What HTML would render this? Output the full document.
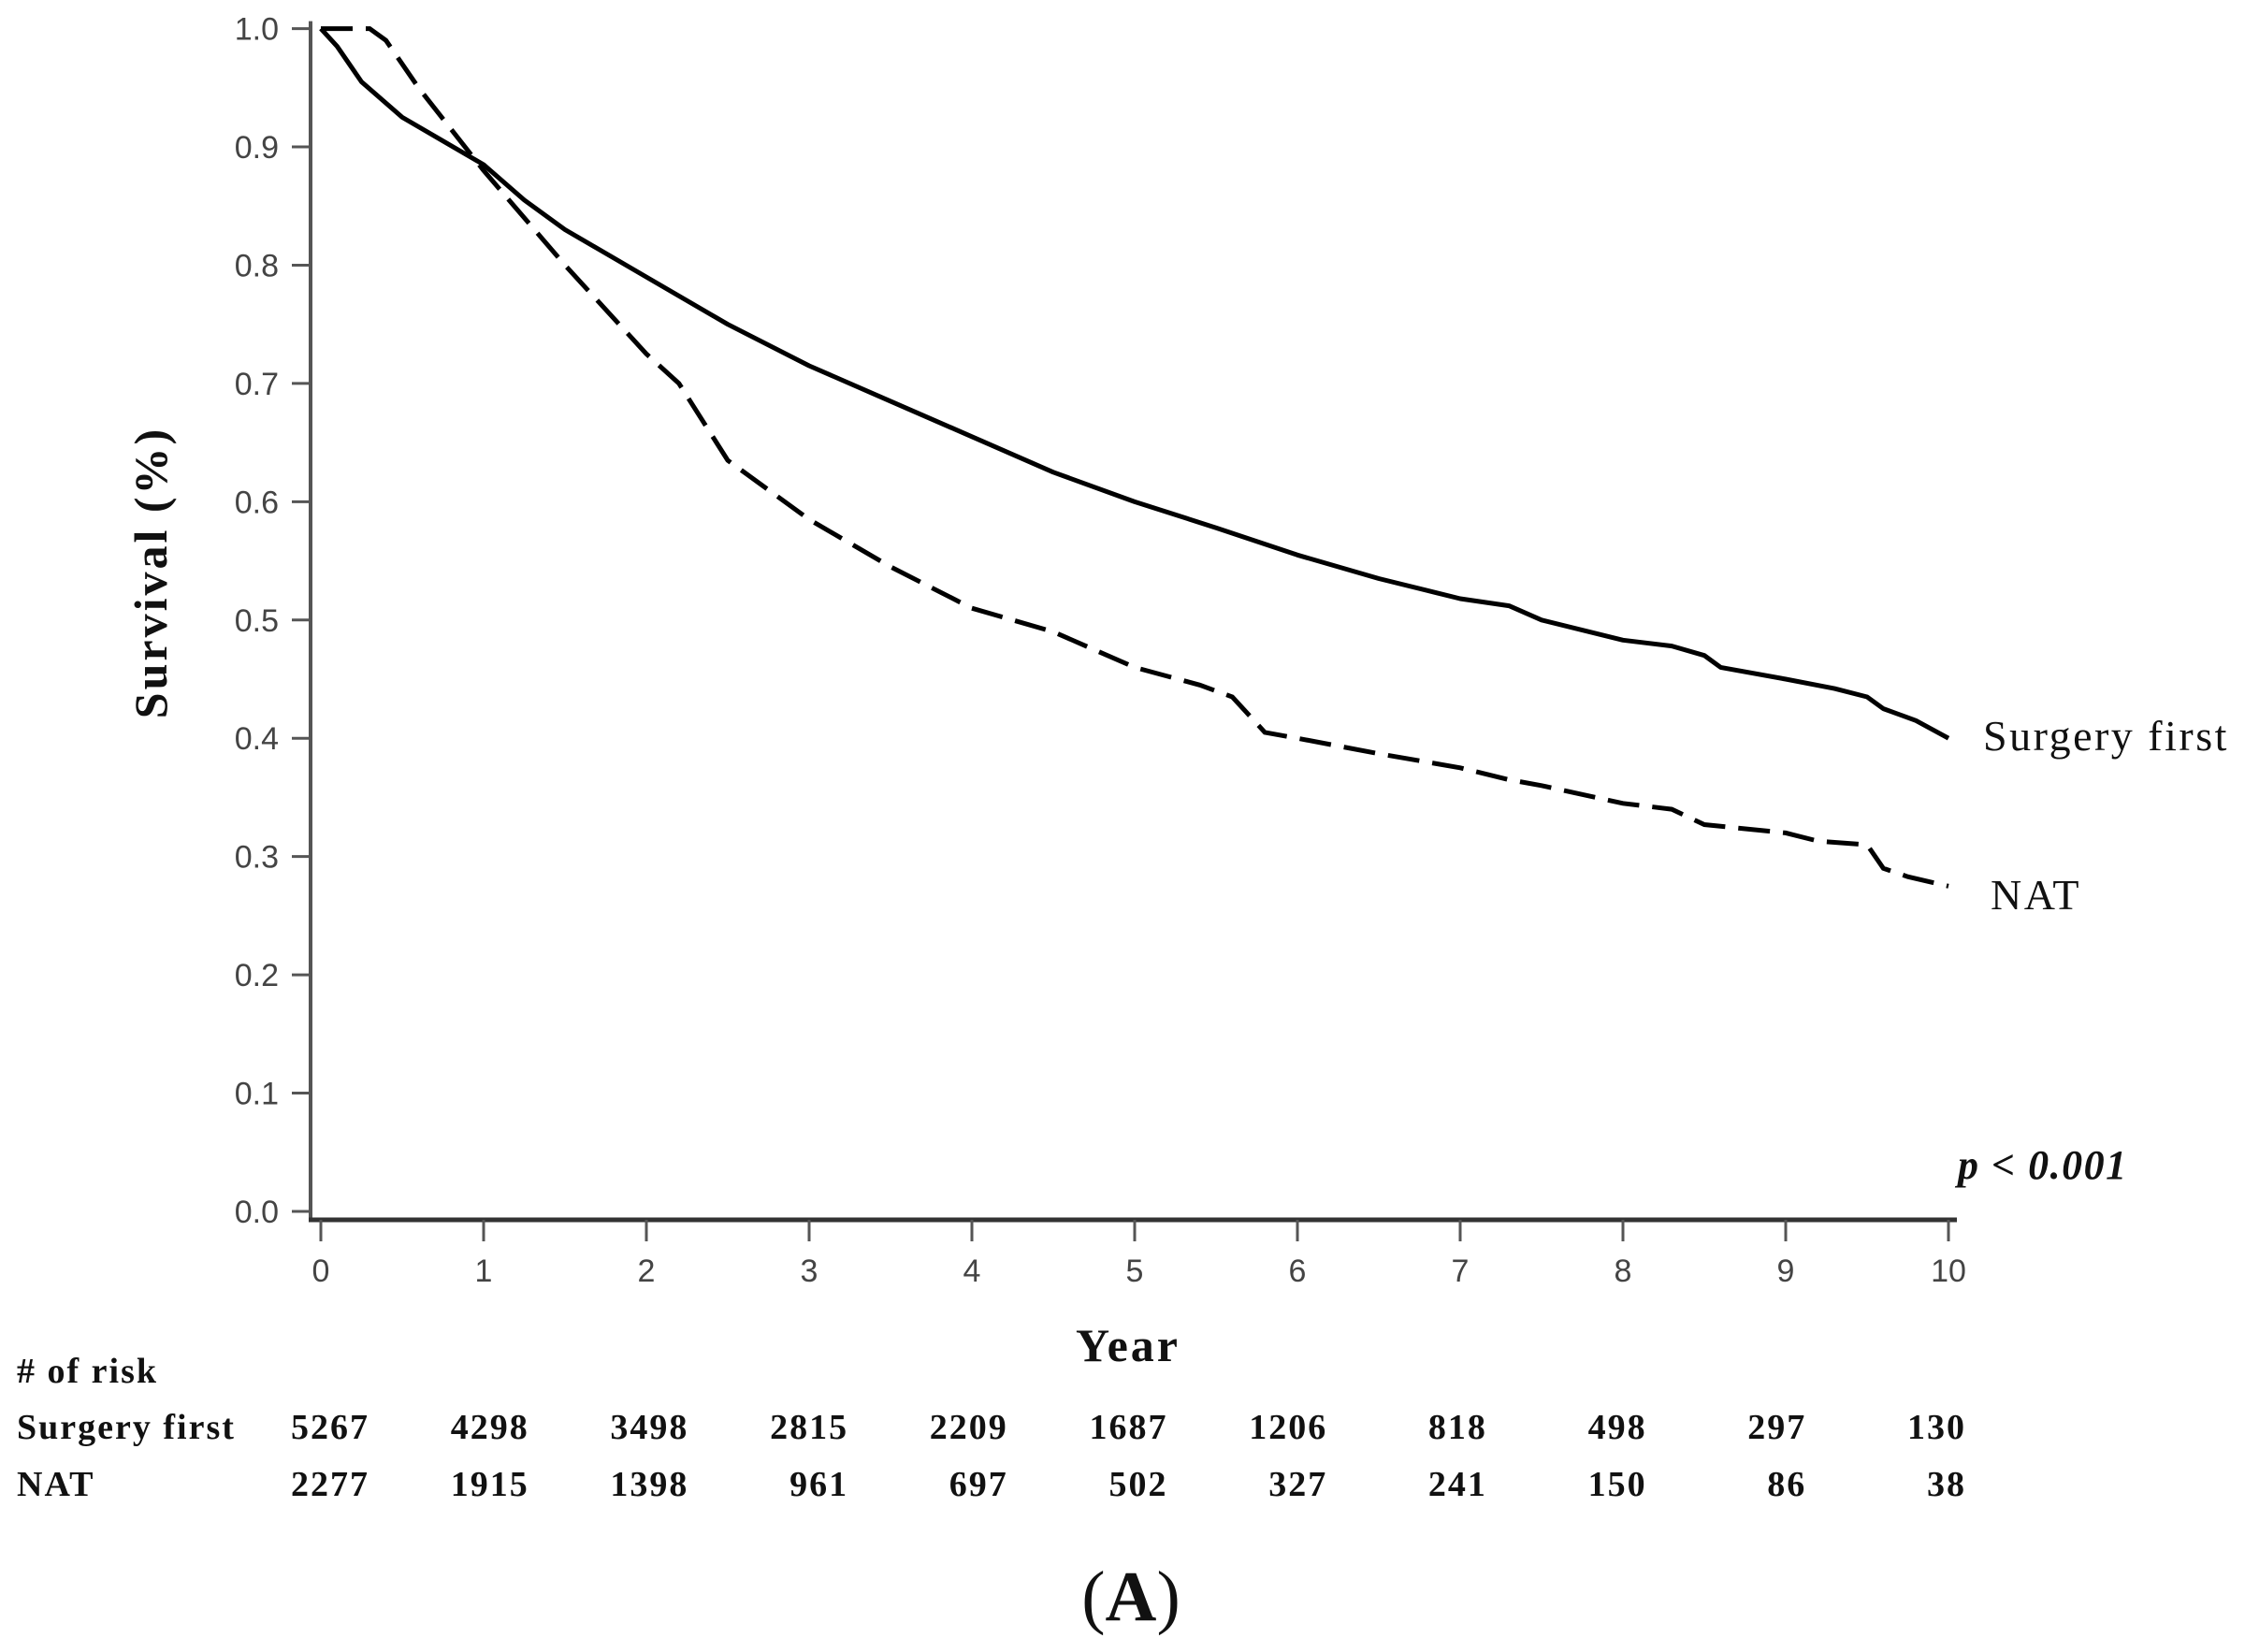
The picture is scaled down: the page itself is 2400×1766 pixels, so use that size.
<!DOCTYPE html>
<html><head><meta charset="utf-8"><style>
html,body{margin:0;padding:0;background:#fff;}
svg{display:block;}
.sans{font-family:"Liberation Sans",sans-serif;fill:#444;}
.serif{font-family:"Liberation Serif",serif;fill:#111;}
</style></head><body>
<svg id="chart" width="2400" height="1766" viewBox="0 0 2400 1766">
<g id="axes"></g>
<g id="curves"></g>
<g id="labels">
<text class="serif" x="0" y="0" transform="translate(178,612) rotate(-90)" text-anchor="middle" font-size="50" font-weight="bold" letter-spacing="3">Survival (%)</text>
<text class="serif" x="1206" y="1455" text-anchor="middle" font-size="50" font-weight="bold" letter-spacing="3">Year</text>
<text class="serif" x="2120" y="802" font-size="46" letter-spacing="2.5">Surgery first</text>
<text class="serif" x="2128" y="972" font-size="46" letter-spacing="2.5">NAT</text>
<text class="serif" x="2093" y="1260" font-size="44" font-style="italic" font-weight="bold" letter-spacing="1.5">p &lt; 0.001</text>
<text class="serif" x="18" y="1478" font-size="38" font-weight="bold" letter-spacing="2"># of risk</text>
<text class="serif" x="18" y="1538" font-size="38" font-weight="bold" letter-spacing="2">Surgery first</text>
<text class="serif" x="18" y="1599" font-size="38" font-weight="bold" letter-spacing="2">NAT</text>
<text class="serif" x="1209" y="1732" text-anchor="middle" font-size="76" font-weight="bold"><tspan font-weight="normal">(</tspan>A<tspan font-weight="normal">)</tspan></text>
</g>
<g id="risk"></g>
</svg>
<script>
const yTicks=[0,0.1,0.2,0.3,0.4,0.5,0.6,0.7,0.8,0.9,1.0];
const xTicks=[0,1,2,3,4,5,6,7,8,9,10];
const surgT=[0,0.1,0.25,0.5,0.75,1,1.25,1.5,2,2.5,3,3.5,4,4.5,5,5.5,6,6.5,7,7.3,7.5,8,8.3,8.5,8.6,9,9.3,9.5,9.6,9.8,10];
const surgS=[1.0,0.985,0.955,0.925,0.905,0.885,0.855,0.83,0.79,0.75,0.715,0.685,0.655,0.625,0.60,0.578,0.555,0.535,0.518,0.512,0.50,0.483,0.478,0.47,0.46,0.45,0.442,0.435,0.425,0.415,0.40];
const natT=[0,0.3,0.4,0.6,1,1.5,2,2.2,2.5,3,3.5,4,4.5,5,5.4,5.6,5.8,6,6.5,7,7.3,7.5,8,8.3,8.5,9,9.2,9.5,9.6,9.75,10];
const natS=[1.0,1.0,0.99,0.95,0.88,0.80,0.725,0.70,0.635,0.585,0.545,0.51,0.49,0.46,0.445,0.435,0.405,0.40,0.387,0.375,0.365,0.36,0.345,0.34,0.327,0.32,0.313,0.31,0.29,0.283,0.275];
const riskSurgery=[5267,4298,3498,2815,2209,1687,1206,818,498,297,130];
const riskNat=[2277,1915,1398,961,697,502,327,241,150,86,38];

const NS="http://www.w3.org/2000/svg";
const X=t=>343+t*174;
const Y=v=>1295-v*1264.4;
const XR=i=>395+i*170.7;
function mk(tag,attrs,parent){const e=document.createElementNS(NS,tag);for(const k in attrs)e.setAttribute(k,attrs[k]);parent.appendChild(e);return e;}
const axes=document.getElementById('axes');
let yl=mk('line',{x1:332,y1:Y(1)-8,x2:332,y2:1306,stroke:'#555','stroke-width':4},axes);


let xl=mk('line',{x1:330,y1:1304,x2:2092,y2:1304,stroke:'#333','stroke-width':5},axes);


yTicks.forEach(v=>{
  let t=mk('line',{x1:312,y1:Y(v),x2:332,y2:Y(v),stroke:'#555','stroke-width':3},axes);
  
  
  let l=mk('text',{x:298,y:Y(v)+12,'text-anchor':'end','font-size':34,class:'sans'},axes);
  l.textContent=v.toFixed(1);
  
  
});
xTicks.forEach(v=>{
  let t=mk('line',{x1:X(v),y1:1304,x2:X(v),y2:1327,stroke:'#555','stroke-width':3},axes);
  
  
  let l=mk('text',{x:X(v),y:1370,'text-anchor':'middle','font-size':34,class:'sans'},axes);
  l.textContent=v;
  
  
});
const curves=document.getElementById('curves');
function pathOf(T,S){return T.map((t,i)=>(i?'L':'M')+X(t).toFixed(1)+','+Y(S[i]).toFixed(1)).join(' ');}
let p1=mk('path',{d:pathOf(surgT,surgS),fill:'none',stroke:'#000','stroke-width':5,'stroke-linejoin':'round'},curves);


let p2=mk('path',{d:pathOf(natT,natS),fill:'none',stroke:'#000','stroke-width':5,'stroke-dasharray':'34 14'},curves);


const risk=document.getElementById('risk');
xTicks.forEach((v,i)=>{
  let a=mk('text',{x:XR(i),y:1538,'text-anchor':'end','font-size':38,'font-weight':'bold','letter-spacing':2,class:'serif'},risk);
  a.textContent=riskSurgery[i];
  
  
  let b=mk('text',{x:XR(i),y:1599,'text-anchor':'end','font-size':38,'font-weight':'bold','letter-spacing':2,class:'serif'},risk);
  b.textContent=riskNat[i];
  
  
});
</script>
</body></html>
